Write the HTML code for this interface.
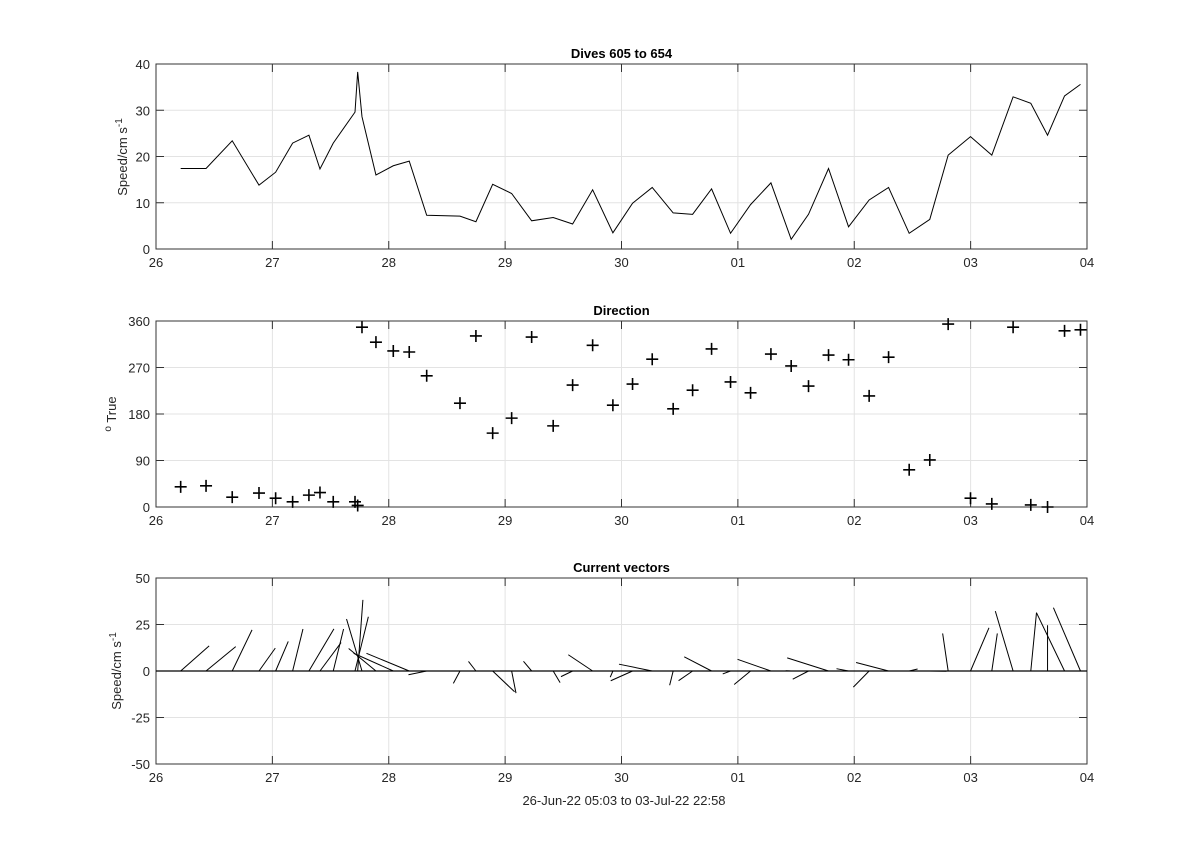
<!DOCTYPE html>
<html><head><meta charset="utf-8">
<style>
html,body{margin:0;padding:0;background:#fff;}
svg{display:block;font-family:"Liberation Sans",Arial,sans-serif;}
</style></head>
<body>
<svg id="fig" width="1200" height="859" viewBox="0 0 1200 859" xmlns="http://www.w3.org/2000/svg">
<rect width="1200" height="859" fill="#fff"/>
</svg>
<script>
// time in days since 26-Jun 00:00
const times=[0.212,0.430,0.655,0.885,1.028,1.174,1.314,1.409,1.523,1.710,1.733,1.770,1.890,2.039,2.176,2.326,2.612,2.749,2.893,3.056,3.228,3.413,3.580,3.752,3.926,4.095,4.264,4.444,4.611,4.774,4.937,5.109,5.284,5.458,5.607,5.779,5.951,6.128,6.295,6.472,6.649,6.807,6.999,7.182,7.365,7.517,7.661,7.807,7.944];
const speeds=[17.4,17.4,23.4,13.8,16.6,22.9,24.6,17.3,22.9,29.6,38.3,28.6,16.0,18.0,19.0,7.3,7.1,5.9,14.0,12.0,6.1,6.8,5.4,12.8,3.5,9.9,13.3,7.8,7.5,13.0,3.4,9.6,14.3,2.1,7.5,17.4,4.8,10.6,13.3,3.4,6.4,20.3,24.3,20.3,32.9,31.5,24.6,33.1,35.6];
const directions=[39,41,19,27,17,10,23,28,10,10,3,348,319,302,300,254,201,331,143,172,329,157,236,313,197,238,286,190,226,306,242,221,296,273,234,294,285,215,290,72,91,354,17,6,348,4,0,341,343];
const xTickLabels=["26","27","28","29","30","01","02","03","04"];
const speedTicks=[0,10,20,30,40];
const dirTicks=[0,90,180,270,360];
const vecTicks=[-50,-25,0,25,50];

const NS="http://www.w3.org/2000/svg";
const svg=document.getElementById('fig');
function mk(tag,attrs,parent){const e=document.createElementNS(NS,tag);for(const k in attrs)e.setAttribute(k,attrs[k]);(parent||svg).appendChild(e);return e;}
const X0=156,X1=1087;
const xs=d=>X0+(d/8)*(X1-X0);

const panels=[
 {top:64,bot:249,min:0,max:40,ticks:speedTicks,title:"Dives 605 to 654",name:"speed-panel"},
 {top:321,bot:507,min:0,max:360,ticks:dirTicks,title:"Direction",name:"direction-panel"},
 {top:578,bot:764,min:-50,max:50,ticks:vecTicks,title:"Current vectors",name:"vectors-panel"}
];
panels.forEach(p=>{
 p.ys=v=>p.bot-(v-p.min)/(p.max-p.min)*(p.bot-p.top);
 const g=mk('g',{});
 
 
 // grid
 xTickLabels.forEach((l,i)=>{const x=xs(i);
  if(i>0&&i<8){const gl=mk('line',{x1:x,x2:x,y1:p.top,y2:p.bot,stroke:'#e3e3e3','stroke-width':1},g);}
  const tb=mk('line',{x1:x,x2:x,y1:p.bot,y2:p.bot-8,stroke:'#333','stroke-width':1},g);
  const tt=mk('line',{x1:x,x2:x,y1:p.top,y2:p.top+8,stroke:'#333','stroke-width':1},g);
  const t=mk('text',{x:x,y:p.bot+18,'text-anchor':'middle','font-size':13,fill:'#262626'},g);t.textContent=l;
  
 });
 p.ticks.forEach(v=>{const y=p.ys(v);
  if(v!==p.min&&v!==p.max){const gl=mk('line',{x1:X0,x2:X1,y1:y,y2:y,stroke:'#e3e3e3','stroke-width':1},g);}
  const tl=mk('line',{x1:X0,x2:X0+8,y1:y,y2:y,stroke:'#333'},g);
  const tr=mk('line',{x1:X1,x2:X1-8,y1:y,y2:y,stroke:'#333'},g);
  const t=mk('text',{x:X0-6,y:y+5,'text-anchor':'end','font-size':13,fill:'#262626'},g);t.textContent=v;
  
 });
 const r=mk('rect',{x:X0,y:p.top,width:X1-X0,height:p.bot-p.top,fill:'none',stroke:'#333','stroke-width':1},g);
 
 const tt=mk('text',{x:(X0+X1)/2,y:p.top-6,'text-anchor':'middle','font-size':13,'font-weight':'bold',fill:'#000'},g);tt.textContent=p.title;
 
 p.g=g;
});
// y labels
function ylab(x,y,html,name){const t=mk('text',{x:0,y:0,'text-anchor':'middle','font-size':13,fill:'#262626',transform:`translate(${x},${y}) rotate(-90)`});t.innerHTML=html;}
ylab(127,157,'Speed/cm s<tspan dy="-5" font-size="10">-1</tspan>','speed-y-axis-title');
ylab(116,414,'<tspan dy="-5" font-size="10">o</tspan><tspan dy="5"> True</tspan>','direction-y-axis-title');
ylab(121,671,'Speed/cm s<tspan dy="-5" font-size="10">-1</tspan>','vector-y-axis-title');
const xl=mk('text',{x:624,y:805,'text-anchor':'middle','font-size':13,fill:'#262626'});
xl.textContent="26-Jun-22 05:03 to 03-Jul-22 22:58";


// speed line
const P1=panels[0];
const pl=mk('polyline',{points:times.map((t,i)=>xs(t)+','+P1.ys(speeds[i])).join(' '),fill:'none',stroke:'#000','stroke-width':1},P1.g);


// direction markers
const P2=panels[1];
times.forEach((t,i)=>{const x=xs(t),y=P2.ys(directions[i]);
 const m=mk('path',{d:`M${x-6},${y}H${x+6}M${x},${y-6}V${y+6}`,stroke:'#000','stroke-width':1.6,fill:'none'},P2.g);
 
});

// vectors
const P3=panels[2];
const zl=mk('line',{x1:X0,x2:X1,y1:P3.ys(0),y2:P3.ys(0),stroke:'#000','stroke-width':1.3},P3.g);

const uScale=2.6;
times.forEach((t,i)=>{const a=directions[i]*Math.PI/180;const u=speeds[i]*Math.sin(a),v=speeds[i]*Math.cos(a);
 const x=xs(t);
 const l=mk('line',{x1:x,y1:P3.ys(0),x2:x+u*uScale,y2:P3.ys(v),stroke:'#000','stroke-width':1},P3.g);
 
});
</script>
</body></html>
